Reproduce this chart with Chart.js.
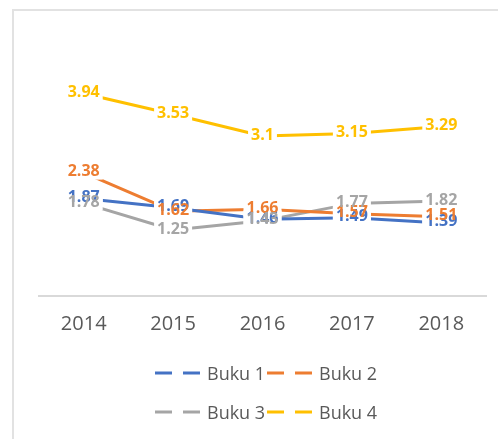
<!DOCTYPE html>
<html>
<head>
<meta charset="utf-8">
<script src="https://cdn.jsdelivr.net/npm/chart.js@4"></script>
<style>
  html, body { margin: 0; padding: 0; background: #fff; }
  #wrap { position: relative; width: 498px; height: 439px; overflow: hidden; }
  #frame { position: absolute; left: 12px; top: 9px; width: 520px; height: 460px;
           border: 2px solid #e2e2e2; box-sizing: border-box; }
  #c { position: absolute; left: 0; top: 0; }
  .lg { position: absolute; display: flex; align-items: center;
        font: 18px "Open Sans", sans-serif; color: #595959; white-space: nowrap; }
  .lg svg { margin-right: 5px; }
</style>
</head>
<body>
<div id="wrap">
  <div id="frame"></div>
  <canvas id="c" width="498" height="439"></canvas>
  <div id="legend"></div>
</div>
<script>
// values
const years = ['2014', '2015', '2016', '2017', '2018'];
const buku1 = [1.87, 1.69, 1.46, 1.49, 1.39];
const buku2 = [2.38, 1.62, 1.66, 1.57, 1.51];
const buku3 = [1.78, 1.25, 1.43, 1.77, 1.82];
const buku4 = [3.94, 3.53, 3.1, 3.15, 3.29];
const names  = ['Buku 1', 'Buku 2', 'Buku 3', 'Buku 4'];
const COLORS = ['#4472C4', '#ED7D31', '#A5A5A5', '#FFC000'];

const series = [buku1, buku2, buku3, buku4];

// Excel-style value labels: white patch under every label first, then the text
const valueLabels = {
  id: 'valueLabels',
  afterDatasetsDraw(chart) {
    const ctx = chart.ctx;
    ctx.save();
    ctx.font = 'bold 16px "Open Sans", sans-serif';
    ctx.textAlign = 'center';
    ctx.textBaseline = 'middle';
    const items = [];
    chart.data.datasets.forEach((ds, i) => {
      chart.getDatasetMeta(i).data.forEach((pt, j) => {
        items.push({ x: pt.x, y: pt.y - 1, txt: String(ds.data[j]), col: ds.borderColor });
      });
    });
    ctx.fillStyle = '#fff';
    items.forEach(it => {
      const w = ctx.measureText(it.txt).width;
      ctx.fillRect(it.x - w / 2 - 3, it.y - 8, w + 6, 16);
    });
    items.forEach(it => {
      ctx.fillStyle = it.col;
      ctx.fillText(it.txt, it.x, it.y);
    });
    ctx.restore();
  }
};

const chart = new Chart(document.getElementById('c').getContext('2d'), {
  type: 'line',
  data: {
    labels: years,
    datasets: series.map((s, i) => ({
      label: names[i], data: s,
      borderColor: COLORS[i], backgroundColor: COLORS[i],
      borderWidth: 3, tension: 0, pointRadius: 0, fill: false,
      borderCapStyle: 'round', borderJoinStyle: 'round'
    }))
  },
  options: {
    responsive: false, animation: false,
    layout: { padding: { left: 39, right: 12, top: 65, bottom: 87 } },
    plugins: { legend: { display: false }, tooltip: { enabled: false } },
    scales: {
      y: { display: false, min: -0.05, max: 4.5 },
      x: {
        offset: true,
        grid: { display: false, drawTicks: false },
        border: { display: true, color: '#d9d9d9', width: 2 },
        ticks: { padding: 16, color: '#595959', font: { size: 20, family: 'Open Sans' } }
      }
    }
  },
  plugins: [valueLabels]
});

// legend: two items per row, dashed line samples
const legend = document.getElementById('legend');
const cols = [155, 267], rows = [373, 412];
chart.data.datasets.forEach((ds, i) => {
  const el = document.createElement('div');
  el.className = 'lg';
  el.style.left = cols[i % 2] + 'px';
  el.style.top = (rows[Math.floor(i / 2)] - 13) + 'px';
  el.style.height = '26px';
  el.innerHTML = `<svg width="47" height="6"><line x1="0" y1="3" x2="47" y2="3"
    stroke="${ds.borderColor}" stroke-width="3" stroke-dasharray="17 11"/></svg>${ds.label}`;
  legend.appendChild(el);
});
</script>
</body>
</html>
